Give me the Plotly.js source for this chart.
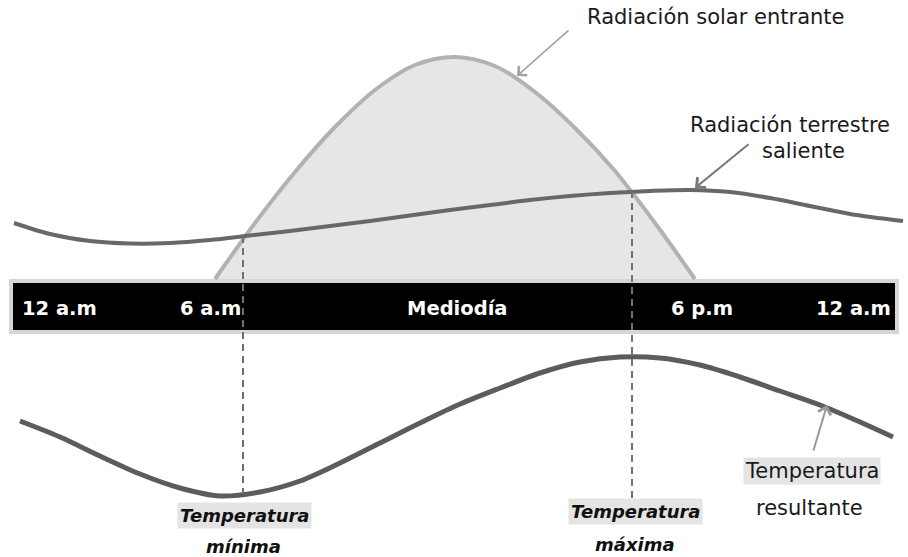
<!DOCTYPE html>
<html>
<head>
<meta charset="utf-8">
<script src="https://cdn.plot.ly/plotly-3.0.1.min.js"></script>
<style>html,body{margin:0;padding:0;background:#fff;}#chart{width:908px;height:557px;}</style>
</head>
<body>
<div id="chart"></div>
<script>
// Curves (horizontal = time of day on a schematic scale, vertical = diagram scale, top = 0)
const solarX = [215, 255, 295, 335, 375, 415, 455, 495, 535, 575, 615, 655, 695];
const solarY = [279, 223, 172, 127, 90, 65, 57, 66, 92, 128, 171, 223, 279];

const terrX = [14, 50, 90, 130, 170, 210, 250, 290, 330, 370, 410, 450, 490, 530, 570, 610, 650, 690, 730, 770, 810, 850, 903];
const terrY = [223, 234, 241, 243.5, 243, 240, 235.5, 231, 226, 221, 215.5, 210, 205, 200, 196, 193, 191, 190, 192, 198, 206, 214, 221];

const tempX = [20, 60, 100, 140, 180, 220, 260, 300, 340, 380, 420, 460, 500, 540, 580, 620, 660, 700, 740, 780, 820, 860, 893];
const tempY = [421, 437, 456, 474, 488, 496, 492, 481, 463, 443, 423, 404, 388, 373, 362, 357, 358, 365, 377, 391, 405, 422, 437];

// Times of minimum / maximum temperature and the dashed guide extents
const markX = [243, 632];
const markTop = [236, 191];
const markBottom = [494, 498];

// Time labels in the bar
const barLabels = ['12 a.m', '6 a.m', 'Mediodía', '6 p.m', '12 a.m'];
const barLabelX = [59, 210, 457, 702, 853];

const FONT = 'DejaVu Sans, Liberation Sans, Arial, sans-serif';

const traces = [
  {x: solarX, y: solarY, type: 'scatter', mode: 'lines', fill: 'toself', fillcolor: '#e6e6e6',
   line: {color: '#b2b2b2', width: 4, shape: 'spline', smoothing: 0.9}, hoverinfo: 'skip'},
  {x: terrX, y: terrY, type: 'scatter', mode: 'lines',
   line: {color: '#686868', width: 4, shape: 'spline', smoothing: 0.9}, hoverinfo: 'skip'},
  {x: tempX, y: tempY, type: 'scatter', mode: 'lines',
   line: {color: '#5c5c5c', width: 5, shape: 'spline', smoothing: 0.9}, hoverinfo: 'skip'}
];
markX.forEach((mx, i) => {
  traces.push({x: [mx, mx], y: [markTop[i], markBottom[i]], type: 'scatter', mode: 'lines',
    line: {color: '#707070', width: 2, dash: '7px,5px'}, hoverinfo: 'skip'});
});

const annotations = [];
barLabels.forEach((t, i) => {
  annotations.push({x: barLabelX[i], y: 308, xref: 'x', yref: 'y', text: '<b>' + t + '</b>', showarrow: false,
    xanchor: 'center', yanchor: 'middle', font: {family: FONT, size: 19.5, color: '#ffffff'}});
});

const normal = {family: FONT, size: 21, color: '#1a1a1a'};
const boldIt = {family: FONT, size: 18, color: '#111111'};

annotations.push(
  {x: 715, y: 17, xref: 'x', yref: 'y', text: 'Radiación solar entrante', showarrow: false, font: normal},
  {x: 790, y: 125, xref: 'x', yref: 'y', text: 'Radiación terrestre', showarrow: false, font: normal},
  {x: 803, y: 151, xref: 'x', yref: 'y', text: 'saliente', showarrow: false, font: normal},
  {x: 812, y: 471, xref: 'x', yref: 'y', text: 'Temperatura', showarrow: false, font: normal, bgcolor: '#e4e4e4', borderpad: 1},
  {x: 809, y: 508, xref: 'x', yref: 'y', text: 'resultante', showarrow: false, font: normal},
  {x: 244, y: 515, xref: 'x', yref: 'y', text: '<b><i>Temperatura</i></b>', showarrow: false, font: boldIt, bgcolor: '#e4e4e4', borderpad: 2},
  {x: 243, y: 546, xref: 'x', yref: 'y', text: '<b><i>mínima</i></b>', showarrow: false, font: boldIt},
  {x: 635, y: 511, xref: 'x', yref: 'y', text: '<b><i>Temperatura</i></b>', showarrow: false, font: boldIt, bgcolor: '#e4e4e4', borderpad: 2},
  {x: 635, y: 544, xref: 'x', yref: 'y', text: '<b><i>máxima</i></b>', showarrow: false, font: boldIt},
  // arrows
  {x: 517, y: 76, ax: 570, ay: 29, xref: 'x', yref: 'y', axref: 'x', ayref: 'y', text: '', showarrow: true,
   arrowhead: 4, arrowsize: 1.5, arrowwidth: 1.6, arrowcolor: '#a3a3a3'},
  {x: 695, y: 188, ax: 750, ay: 143, xref: 'x', yref: 'y', axref: 'x', ayref: 'y', text: '', showarrow: true,
   arrowhead: 4, arrowsize: 1.3, arrowwidth: 2, arrowcolor: '#7a7a7a'},
  {x: 827, y: 405, ax: 813, ay: 452, xref: 'x', yref: 'y', axref: 'x', ayref: 'y', text: '', showarrow: true,
   arrowhead: 4, arrowsize: 1.3, arrowwidth: 2, arrowcolor: '#999999'}
);

const layout = {
  width: 908, height: 557,
  margin: {l: 0, r: 0, t: 0, b: 0},
  paper_bgcolor: '#ffffff', plot_bgcolor: '#ffffff',
  showlegend: false,
  xaxis: {range: [0, 908], visible: false, fixedrange: true},
  yaxis: {range: [557, 0], visible: false, fixedrange: true},
  shapes: [
    {type: 'rect', xref: 'x', yref: 'y', x0: 9, x1: 899, y0: 279, y1: 334, fillcolor: '#d6d6d6', line: {width: 0}, layer: 'below'},
    {type: 'rect', xref: 'x', yref: 'y', x0: 13, x1: 895, y0: 283, y1: 330, fillcolor: '#000000', line: {width: 0}, layer: 'below'}
  ],
  annotations: annotations
};

Plotly.newPlot('chart', traces, layout, {displayModeBar: false, staticPlot: true});
</script>
</body>
</html>
